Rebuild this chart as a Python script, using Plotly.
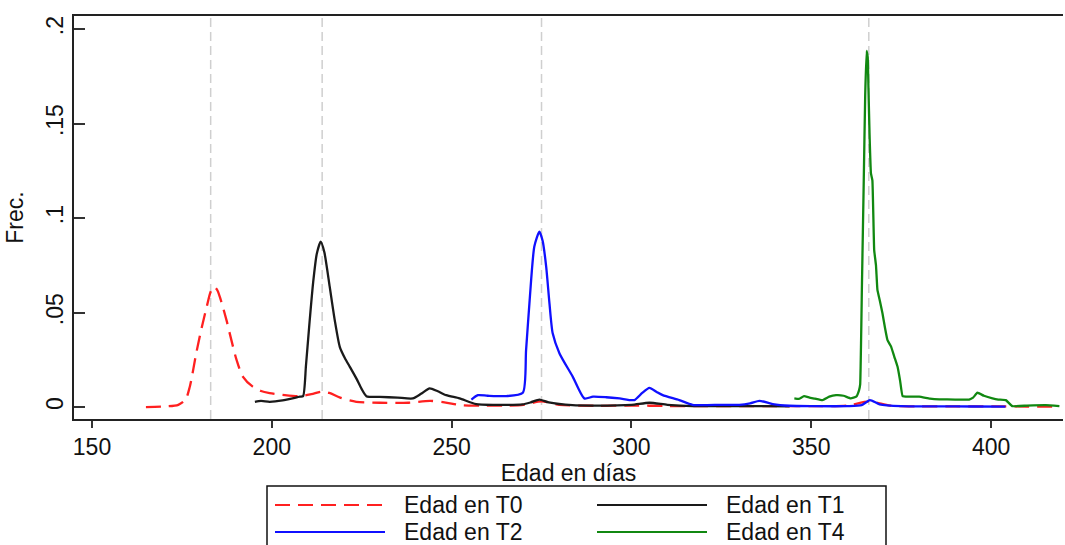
import plotly.graph_objects as go

# ---------------- data ----------------
t0_x = [165, 170, 174, 176, 177.2, 179, 180.5, 181.9, 183, 183.9, 184.8, 185.6, 187.4, 188.3, 190.2, 192, 194.7,
        197, 199.4, 203, 207.8, 211, 213.8, 216, 219, 223.5, 230, 238, 244, 248, 253, 258, 265, 270, 275, 280,
        290, 300, 310, 320, 330, 340, 350, 360, 366, 372, 380, 390, 400, 410, 419]
t0_y = [0, 0.0003, 0.0012, 0.004, 0.0108, 0.0286, 0.042, 0.053, 0.061, 0.0637, 0.062, 0.058, 0.046, 0.039, 0.025,
        0.016, 0.0108, 0.0085, 0.0074, 0.0065, 0.0058, 0.0068, 0.0081, 0.0075, 0.005, 0.0028, 0.0023, 0.0023,
        0.0033, 0.0025, 0.001, 0.0008, 0.0008, 0.0012, 0.003, 0.0012, 0.0007, 0.0008, 0.0006, 0.0005, 0.0005,
        0.0005, 0.0005, 0.0008, 0.003, 0.0008, 0.0004, 0.0004, 0.0004, 0.0003, 0.0003]

t1_x = [195.3, 197, 199.4, 203, 207.8, 208.7, 209.5, 210.5, 211.5, 212.5, 213.6, 214.6, 216.1, 217.5, 218.9, 220.3,
        221.7, 223.5, 225, 226.3, 230, 235, 239.2, 241.5, 243.9, 246, 248.5, 252.2, 256.8, 262, 269.7, 272, 274.4,
        277, 283.6, 290, 300, 305, 310, 317, 325, 335, 344]
t1_y = [0.0028, 0.0033, 0.0028, 0.0035, 0.0055, 0.0058, 0.022, 0.045, 0.066, 0.081, 0.0875, 0.082, 0.0637, 0.046,
        0.0319, 0.026, 0.0213, 0.0152, 0.0095, 0.0058, 0.0054, 0.005, 0.0046, 0.007, 0.0099, 0.0085, 0.0063, 0.0046,
        0.0016, 0.0012, 0.0014, 0.0025, 0.004, 0.0025, 0.001, 0.0008, 0.0012, 0.0023, 0.0012, 0.0005, 0.0005,
        0.0005, 0.0004]

t2_x = [255.5, 257.3, 260, 265.2, 269.8, 270.7, 271.7, 273, 274.4, 275.3, 276.3, 277.2, 278.1, 280, 283.7, 286.9,
        289.3, 293, 296.7, 300.8, 303, 305, 307, 308.7, 313.3, 317, 325, 330, 333, 335.6, 339.3, 343.9, 350, 360,
        364, 366.3, 369, 375, 385, 395, 404]
t2_y = [0.004, 0.0063, 0.006, 0.0058, 0.0076, 0.03, 0.0566, 0.085, 0.0928, 0.088, 0.0742, 0.055, 0.039, 0.0284,
        0.016, 0.0046, 0.0055, 0.0052, 0.0046, 0.0037, 0.0075, 0.0102, 0.008, 0.0063, 0.0037, 0.0012, 0.0012,
        0.0012, 0.002, 0.0033, 0.0016, 0.0007, 0.0005, 0.0005, 0.001, 0.0037, 0.0015, 0.0005, 0.0004, 0.0003,
        0.0002]

t4_x = [345.3, 346.5, 348, 349.5, 351, 353.1, 355, 356.9, 359, 361, 362.5, 363.3, 363.6, 364.1, 364.6, 365.0, 365.4,
        365.7, 365.9, 366.2, 366.6, 367.0, 367.5, 368.0, 368.4, 369.1, 369.8, 370.5, 371.2, 372.2, 373.1, 374,
        374.7, 375.4, 377, 380, 383, 385.6, 390, 393.9, 395, 396.2, 398, 400.4, 402, 404.1, 405.9, 410, 415.2, 419]
t4_y = [0.0046, 0.0043, 0.0058, 0.005, 0.0045, 0.0037, 0.0055, 0.0063, 0.006, 0.0046, 0.0055, 0.009, 0.012, 0.065,
        0.12, 0.165, 0.1885, 0.185, 0.169, 0.145, 0.1236, 0.12, 0.083, 0.075, 0.062, 0.056, 0.0496, 0.042, 0.0354,
        0.032, 0.0266, 0.0213, 0.014, 0.0058, 0.0055, 0.0055, 0.0045, 0.0041, 0.004, 0.004, 0.005, 0.0076, 0.006,
        0.0046, 0.004, 0.0037, 0.0005, 0.0008, 0.001, 0.0005]

ref_days = [183, 214, 275, 366]
series_names = ["Edad en T0", "Edad en T1", "Edad en T2", "Edad en T4"]
x_ticks = [150, 200, 250, 300, 350, 400]
y_ticks = [0, 0.05, 0.1, 0.15, 0.2]
y_ticktext = ["0", ".05", ".1", ".15", ".2"]

colors = ["#ff2020", "#1a1a1a", "#1010ff", "#118811"]
dashes = ["15px,8px", "solid", "solid", "solid"]
smooth = [0.8, 0.6, 0.6, 0.3]

# ---------------- figure ----------------
W, H = 1065, 545
L, R, T, B = 74, 2, 16, 126
PW, PH = W - L - R, H - T - B

def px(xpix):
    return (xpix - L) / PW

def py(ypix):
    return (H - B - ypix) / PH

FONT = "Liberation Sans, Arial, sans-serif"
FS = 23

fig = go.Figure()
for xs, ys, name, c, d, s in zip([t0_x, t1_x, t2_x, t4_x], [t0_y, t1_y, t2_y, t4_y], series_names, colors,
                                 dashes, smooth):
    fig.add_trace(go.Scatter(x=xs, y=ys, mode="lines", name=name,
                             line=dict(color=c, width=2.3, dash=d, shape="spline", smoothing=s),
                             showlegend=False))

shapes = []
for d in ref_days:
    shapes.append(dict(type="line", xref="x", yref="paper", x0=d, x1=d, y0=0, y1=1,
                       line=dict(color="#cfcfcf", width=1.5, dash="9px,5px"), layer="below"))

# custom legend (2 columns)
shapes.append(dict(type="rect", xref="paper", yref="paper", x0=px(267), x1=px(886), y0=py(570), y1=py(486),
                   line=dict(color="#111", width=1.5), fillcolor="rgba(0,0,0,0)"))
leg_pos = [(275, 505), (597, 505), (275, 532), (597, 532)]
annotations = []
for (lx, ly), name, c, d in zip(leg_pos, series_names, colors, dashes):
    shapes.append(dict(type="line", xref="paper", yref="paper", x0=px(lx), x1=px(lx + 110), y0=py(ly), y1=py(ly),
                       line=dict(color=c, width=2, dash=d)))
    annotations.append(dict(xref="paper", yref="paper", x=px(lx + 127), y=py(ly), text=name, showarrow=False,
                            xanchor="left", yanchor="middle", font=dict(family=FONT, size=FS, color="#111")))

fig.update_layout(
    width=W, height=H,
    margin=dict(l=L, r=R, t=T, b=B, pad=0),
    paper_bgcolor="white", plot_bgcolor="white",
    font=dict(family=FONT, size=FS, color="#111"),
    shapes=shapes, annotations=annotations,
    showlegend=False,
)
fig.update_xaxes(range=[145, 420], tickvals=x_ticks, ticks="outside", ticklen=7, tickwidth=1.5,
                 tickcolor="#333", showline=True, linecolor="#222", linewidth=1.5, mirror=True,
                 showgrid=False, zeroline=False,
                 title=dict(text="Edad en días", standoff=0, font=dict(size=FS)),
                 tickfont=dict(size=FS))
fig.update_yaxes(range=[-0.0063, 0.2069], tickvals=y_ticks, ticktext=y_ticktext, tickangle=-90,
                 ticks="inside", ticklen=11, tickwidth=1.5, tickcolor="#333",
                 showline=True, linecolor="#222", linewidth=1.5, showgrid=False, zeroline=False,
                 ticklabelstandoff=0,
                 title=dict(text="Frec.", standoff=12, font=dict(size=FS)),
                 tickfont=dict(size=FS))

fig.write_html("out.html")
